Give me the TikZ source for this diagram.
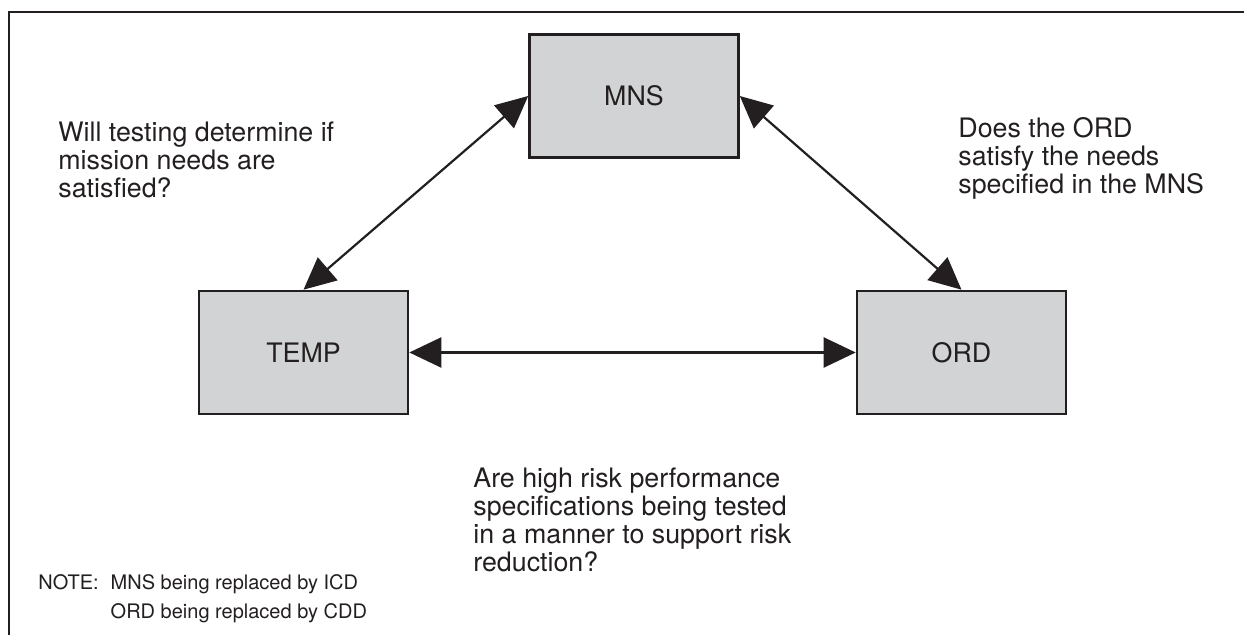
\documentclass[tikz,border=0pt]{standalone}
\usepackage{fontspec}
\setmainfont{TeX Gyre Heros}
\usepackage{tikz}
\usetikzlibrary{arrows.meta,positioning}
\definecolor{ink}{HTML}{231F20}
\definecolor{boxgray}{HTML}{D1D3D4}

\begin{document}
\begin{tikzpicture}[x=0.5pt,y=-0.5pt,font=\fontsize{13.4}{14.1}\selectfont,text=ink]
\tikzset{doc/.style={draw=ink,fill=boxgray,line width=1.3pt,minimum width=104.5pt,minimum height=61.5pt,inner sep=0pt}, link/.style={{Triangle[length=16pt,width=15pt]}-{Triangle[length=16pt,width=15pt]},draw=ink,line width=1.1pt}, remark/.style={align=left,inner sep=0pt,anchor=north west}}
\useasboundingbox (0,0) rectangle (1244,635);
\draw[draw=ink,line width=1.4pt] (9,635)--(9,12)--(1244,12);
\node[doc] (mns) at (634,96) {MNS};
\node[doc] (temp) at (303.5,352.5) {TEMP};
\node[doc] (ord) at (961.5,352.5) {ORD};
\draw[link] (mns.west)--(temp.north);
\draw[link] (mns.east)--(ord.north);
\draw[link] (temp.east)--(ord.west);
\node[remark] (qmission) at (58,121) {Will testing determine if\\mission needs are\\satisfied?};
\node[remark] (qneeds) at (958,117) {Does the ORD\\satisfy the needs\\specified in the MNS};
\node[remark] (qrisk) at (473,467) {Are high risk performance\\specifications being tested\\in a manner to support risk\\reduction?};
\node[remark,font=\fontsize{10}{14.5}\selectfont] (note) at (38,574) {NOTE:\hspace{0.6em}MNS being replaced by ICD\\\phantom{NOTE:\hspace{0.6em}}ORD being replaced by CDD};
\end{tikzpicture}
\end{document}
